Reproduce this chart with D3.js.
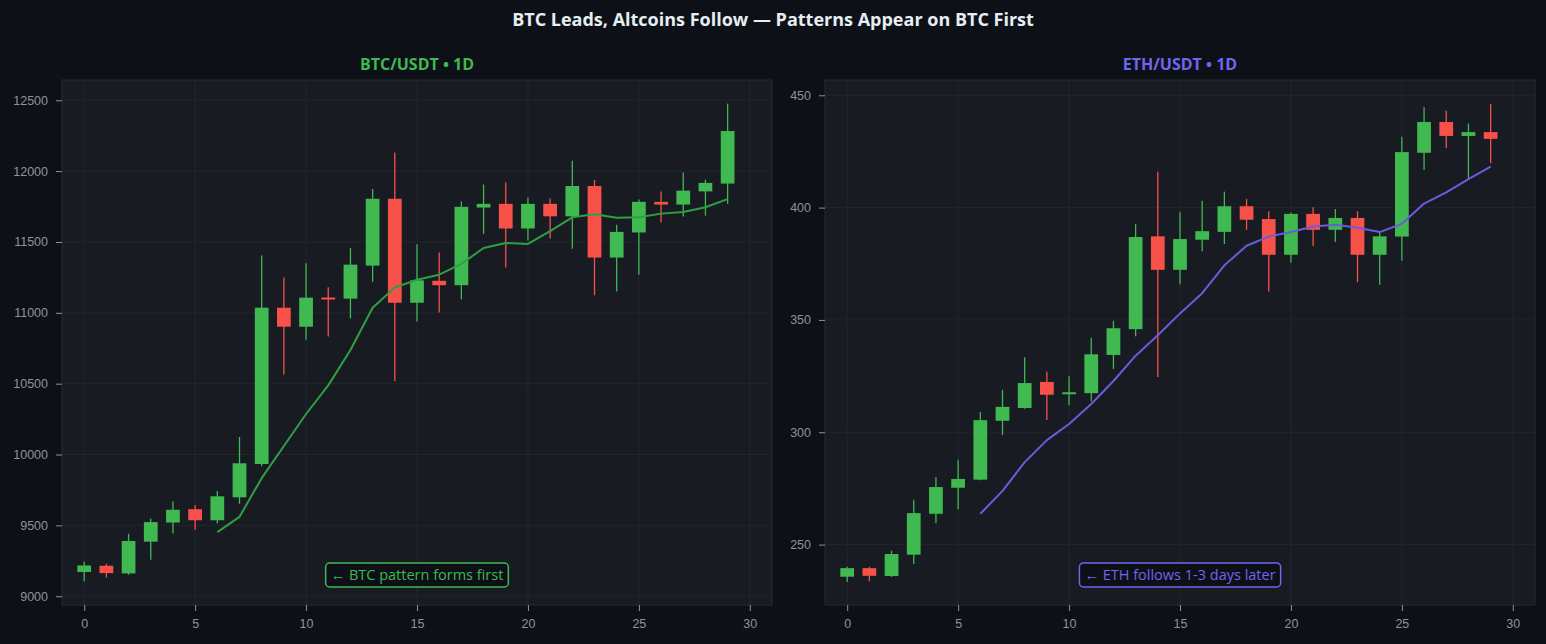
<!DOCTYPE html>
<html>
<head>
<meta charset="utf-8">
<script src="https://cdn.jsdelivr.net/npm/d3@7"></script>
<style>
  html, body { margin: 0; padding: 0; background: #0d1017; }
  svg { display: block; font-family: "Open Sans", "Noto Sans", sans-serif; }
  .tick text { fill: #8b949e; font-size: 12.5px; }
  .tick line { stroke: #8b949e; }
  .domain { display: none; }
</style>
</head>
<body>
<div id="chart"></div>
<script>
// day index 0..29
const days = d3.range(30);

// BTC/USDT daily candles
const btcOpen  = [9171, 9215, 9161, 9385, 9520, 9614, 9536, 9698, 9933, 11036, 10902, 11108, 11100, 11333, 11805,
                  11071, 11226, 11195, 11743, 11769, 11595, 11769, 11681, 11895, 11390, 11567, 11783, 11764, 11857, 11912];
const btcHigh  = [9243, 9229, 9441, 9549, 9670, 9643, 9743, 10124, 11405, 11250, 11350, 11181, 11457, 11874, 12131,
                  11483, 11426, 11786, 11905, 11919, 11814, 11807, 12074, 11938, 11621, 11800, 11857, 11990, 11940, 12476];
const btcLow   = [9105, 9131, 9152, 9257, 9442, 9469, 9514, 9652, 9917, 10564, 10810, 10833, 10960, 11219, 10519,
                  10938, 11002, 11095, 11557, 11319, 11510, 11524, 11452, 11124, 11150, 11269, 11638, 11679, 11686, 11769];
const btcClose = [9217, 9163, 9390, 9523, 9610, 9536, 9705, 9938, 11036, 10902, 11107, 11098, 11340, 11805, 11071,
                  11229, 11195, 11748, 11769, 11595, 11769, 11681, 11895, 11390, 11571, 11783, 11764, 11862, 11917, 12283];
// 7-day average as drawn (from day 6)
const btcMA    = [null, null, null, null, null, null, 9452, 9560, 9833, 10060, 10286, 10488, 10738, 11036, 11179,
                  11233, 11269, 11345, 11457, 11493, 11486, 11576, 11674, 11695, 11671, 11674, 11700, 11712, 11745, 11802];

// ETH/USDT daily candles
const ethOpen  = [235.7, 239.5, 236.0, 245.5, 263.7, 275.3, 278.9, 305.1, 310.8, 322.4, 316.9, 317.4, 334.4, 345.9, 387.2,
                  372.3, 385.7, 389.2, 400.6, 394.9, 379.0, 397.2, 390.1, 395.4, 379.0, 387.1, 424.4, 438.1, 431.9, 433.6];
const ethHigh  = [240.1, 240.1, 247.3, 269.9, 280.1, 287.8, 309.0, 318.9, 333.4, 326.9, 324.9, 342.1, 349.6, 392.7, 416.0,
                  397.9, 403.0, 407.1, 403.9, 398.4, 397.8, 400.2, 399.4, 398.4, 389.1, 431.5, 444.7, 443.1, 437.4, 446.2];
const ethLow   = [233.3, 233.7, 235.6, 241.3, 259.5, 265.7, 278.6, 298.8, 310.5, 305.4, 312.0, 313.8, 328.1, 342.7, 324.6,
                  365.9, 380.6, 383.8, 390.1, 362.6, 375.4, 382.9, 384.7, 366.8, 365.7, 376.3, 416.7, 426.5, 412.7, 419.8];
const ethClose = [239.5, 236.1, 245.8, 264.0, 275.6, 279.2, 305.4, 311.3, 321.9, 316.7, 317.8, 334.7, 346.3, 386.9, 372.3,
                  386.0, 389.5, 400.6, 394.6, 379.0, 397.2, 390.1, 395.4, 379.0, 387.2, 424.7, 438.1, 431.9, 433.6, 430.6];
const ethMA    = [null, null, null, null, null, null, 263.7, 273.9, 286.7, 296.5, 303.7, 312.6, 322.8, 334.1, 343.2,
                  352.9, 361.9, 374.3, 383.0, 387.1, 389.1, 391.6, 392.4, 391.0, 389.1, 392.8, 401.8, 406.8, 412.7, 418.2];

const btcTicks = [9000, 9500, 10000, 10500, 11000, 11500, 12000, 12500];
const ethTicks = [250, 300, 350, 400, 450];
const xTicks = [0, 5, 10, 15, 20, 25, 30];

const W = 1546, H = 644;
const UP = "#3fb950", DOWN = "#f85149";

const svg = d3.select("#chart").append("svg")
    .attr("width", W)
    .attr("height", H);

svg.append("rect").attr("width", W).attr("height", H).attr("fill", "#0d1017");

svg.append("text")
    .attr("x", W / 2)
    .attr("y", 26)
    .attr("text-anchor", "middle")
    .attr("fill", "#e6edf3")
    .attr("font-size", 18)
    .attr("font-weight", "bold")
    .text("BTC Leads, Altcoins Follow \u2014 Patterns Appear on BTC First");

function drawPanel(opts) {
    const x0 = opts.left, y0 = 80, w = 710, h = 525;
    const x = d3.scaleLinear().domain([-1, 31]).range([0, w]);
    const y = d3.scaleLinear().domain(opts.yDomain).range([h, 0]);

    const rows = days.map(i => ({
        i: i,
        o: opts.open[i], hi: opts.high[i], lo: opts.low[i], c: opts.close[i], ma: opts.ma[i]
    }));

    // panel title
    svg.append("text")
        .attr("x", x0 + w / 2)
        .attr("y", 70)
        .attr("text-anchor", "middle")
        .attr("fill", opts.color)
        .attr("font-size", 16)
        .attr("font-weight", "bold")
        .text(opts.title);

    let g = svg.append("g").attr("transform", "translate(" + x0 + "," + y0 + ")");

    g.append("rect")
        .attr("width", w).attr("height", h)
        .attr("fill", "#181b22")
        .attr("stroke", "#262a33");

    // grid
    g.append("g").selectAll("line")
        .data(opts.yTicks).enter().append("line")
        .attr("x1", 0).attr("x2", w)
        .attr("y1", d => y(d)).attr("y2", d => y(d))
        .attr("stroke", "#242831").attr("stroke-width", 0.8);
    g.append("g").selectAll("line")
        .data(xTicks).enter().append("line")
        .attr("y1", 0).attr("y2", h)
        .attr("x1", d => x(d)).attr("x2", d => x(d))
        .attr("stroke", "#242831").attr("stroke-width", 0.8);

    // axes
    g.append("g")
        .call(d3.axisLeft(y).tickValues(opts.yTicks).tickSize(6).tickPadding(8).tickFormat(d3.format("d")));
    g.append("g")
        .attr("transform", "translate(0," + h + ")")
        .call(d3.axisBottom(x).tickValues(xTicks).tickSize(6).tickPadding(8).tickFormat(d3.format("d")));

    // candles
    const bw = x(0.62) - x(0);
    let candles = g.append("g").selectAll("g")
        .data(rows).enter().append("g")
        .attr("fill", d => d.c >= d.o ? UP : DOWN)
        .attr("stroke", d => d.c >= d.o ? UP : DOWN);

    candles.append("line")
        .attr("x1", d => x(d.i)).attr("x2", d => x(d.i))
        .attr("y1", d => y(d.hi)).attr("y2", d => y(d.lo))
        .attr("stroke-width", 1.3);

    candles.append("rect")
        .attr("stroke", "none")
        .attr("x", d => x(d.i) - bw / 2)
        .attr("width", bw)
        .attr("y", d => y(Math.max(d.o, d.c)))
        .attr("height", d => Math.max(2, Math.abs(y(d.o) - y(d.c))));

    // moving average
    const line = d3.line()
        .defined(d => d.ma != null)
        .x(d => x(d.i))
        .y(d => y(d.ma));
    g.append("path")
        .datum(rows)
        .attr("fill", "none")
        .attr("stroke", opts.maColor)
        .attr("stroke-width", 2)
        .attr("stroke-linejoin", "round")
        .attr("d", line);

    // annotation
    let note = g.append("g").attr("transform", "translate(" + (w / 2) + "," + (h - 30) + ")");
    let txt = note.append("text")
        .attr("text-anchor", "middle")
        .attr("y", 5)
        .attr("fill", opts.color)
        .attr("font-size", 14.5)
        .text(opts.note);
    const bb = txt.node().getBBox();
    note.insert("rect", "text")
        .attr("x", bb.x - 5).attr("y", -12)
        .attr("width", bb.width + 10).attr("height", 24)
        .attr("rx", 4)
        .attr("fill", "#0d1017")
        .attr("stroke", opts.color)
        .attr("stroke-width", 1.5);
}

drawPanel({
    left: 62, title: "BTC/USDT \u2022 1D", color: UP, maColor: "#2ea043",
    open: btcOpen, high: btcHigh, low: btcLow, close: btcClose, ma: btcMA,
    yDomain: [8938, 12643], yTicks: btcTicks,
    note: "\u2190 BTC pattern forms first"
});

drawPanel({
    left: 825, title: "ETH/USDT \u2022 1D", color: "#7166ee", maColor: "#6a5cdc",
    open: ethOpen, high: ethHigh, low: ethLow, close: ethClose, ma: ethMA,
    yDomain: [223.1, 456.8], yTicks: ethTicks,
    note: "\u2190 ETH follows 1-3 days later"
});
</script>
</body>
</html>
